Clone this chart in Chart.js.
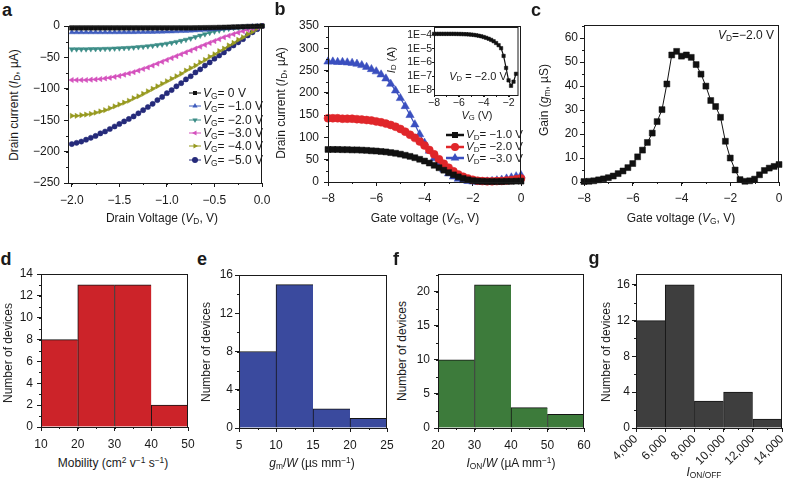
<!DOCTYPE html>
<html lang="en">
<head>
<meta charset="UTF-8">
<title>Transistor characteristics</title>
<script src="https://cdn.jsdelivr.net/npm/chart.js"></script>
<style>
  body { margin: 0; background: #fff; font-family: 'Liberation Sans', Arial, sans-serif; color: #1a1a1a; }
  #fig { position: relative; width: 786px; height: 486px; overflow: hidden; }
  canvas { position: absolute; }
  .t { position: absolute; white-space: nowrap; font-size: 12px; line-height: 1; transform: translate(-50%, -50%); }
  .rot { transform: translate(-50%, -50%) rotate(-90deg); }
  .p { font-weight: bold; font-size: 18px; }
  .leg { position: absolute; white-space: nowrap; display: flex; align-items: center; height: 16px; font-size: 12px; line-height: 1; }
  sub { font-size: 0.7em; vertical-align: -0.25em; line-height: 0; }
  sup { font-size: 0.7em; vertical-align: 0.45em; line-height: 0; }
</style>
</head>
<body>
<div id="fig"></div>
<script>
// ---- a: output curves, drain current (uA) vs drain voltage
const drainV = [-2.0,-1.95,-1.9,-1.85,-1.8,-1.75,-1.7,-1.65,-1.6,-1.55,-1.5,-1.45,-1.4,-1.35,-1.3,-1.25,-1.2,-1.15,-1.1,-1.05,-1.0,-0.95,-0.9,-0.85,-0.8,-0.75,-0.7,-0.65,-0.6,-0.55,-0.5,-0.45,-0.4,-0.35,-0.3,-0.25,-0.2,-0.15,-0.1,-0.05,0];
const idVg0 = [-3,-3,-3,-3,-3,-3,-3,-3,-3,-3,-3,-3,-3,-3,-3,-3,-3,-3,-3,-3,-3,-3,-3,-3,-3,-3,-2.9,-2.8,-2.7,-2.6,-2.5,-2.3,-2.1,-1.9,-1.6,-1.4,-1.1,-0.8,-0.6,-0.3,0];
const idVg1 = [-10,-10,-10,-10,-10,-10,-10,-10,-10,-10,-9.9,-9.9,-9.8,-9.8,-9.7,-9.6,-9.5,-9.4,-9.3,-9.1,-8.9,-8.7,-8.4,-8.1,-7.8,-7.4,-7.0,-6.6,-6.1,-5.6,-5.1,-4.6,-4.0,-3.5,-2.9,-2.4,-1.9,-1.4,-0.9,-0.5,0];
const idVg2 = [-37,-37,-37,-37,-36.8,-36.7,-36.5,-36.3,-36.1,-35.8,-35.5,-35.1,-34.7,-34.2,-33.6,-33.0,-32.2,-31.4,-30.4,-29.3,-28.1,-26.8,-25.3,-23.6,-21.8,-19.8,-17.6,-15.3,-13.0,-10.8,-8.8,-7.0,-5.5,-4.2,-3.2,-2.4,-1.7,-1.1,-0.6,-0.3,0];
const idVg3 = [-86,-86,-86,-86,-85.5,-85,-84.5,-83.5,-82.5,-81,-79.5,-77.5,-75.5,-73.5,-71,-68.5,-66,-63,-60,-57,-54,-51,-48,-45,-42,-39,-36,-33,-30,-27,-24,-21,-18,-15.5,-13,-10.5,-8.2,-6,-4,-2,0];
const idVg4 = [-143,-143,-142,-141,-140,-138,-136,-134,-131,-128,-125,-122,-119,-115,-112,-108,-104,-100,-96,-92,-88,-84,-80,-76,-71,-67,-63,-58,-54,-49,-45,-40,-36,-31,-27,-22,-18,-13,-9,-4,0];
const idVg5 = [-188,-186,-184,-181,-178,-175,-171,-168,-164,-160,-156,-152,-148,-144,-139,-134,-129,-124,-118,-113,-107,-102,-96,-91,-85,-80,-74,-69,-63,-58,-52,-47,-42,-36,-31,-26,-21,-15,-10,-5,0];
const aXTicks = [-2.0, -1.5, -1.0, -0.5, 0.0];
const aYTicks = [-250, -200, -150, -100, -50, 0];

// ---- b: transfer curves, drain current (uA) vs gate voltage
const gateV = [-8,-7.8,-7.6,-7.4,-7.2,-7,-6.8,-6.6,-6.4,-6.2,-6,-5.8,-5.6,-5.4,-5.2,-5,-4.8,-4.6,-4.4,-4.2,-4,-3.8,-3.6,-3.4,-3.2,-3,-2.8,-2.6,-2.4,-2.2,-2,-1.8,-1.6,-1.4,-1.2,-1,-0.8,-0.6,-0.4,-0.2,0];
const idVd1 = [73,73,73,72.5,72.5,72,72,71.5,71,70,69.5,68.5,67.5,66,64.5,62.5,60,57.5,54.5,51,47,42.5,37.5,32,26.5,21,16,11.5,8,5,3,2,1.5,1,1,1,1,1.5,1.5,2,2];
const idVd2 = [143,143,143,142,142,142,141,140,139,138,136,134,131,128,124,119,113,106,99,91,82,72,62,51,41,32,24,17,12,8,5,3,2,1.5,1.5,2,2.5,3.5,4.5,6,8];
const idVd3 = [270,270,269,269,268,267,265,262,258,253,248,241,232,220,205,188,170,150,129,107,88,70,53,39,28,19,12,7,4,2,1,0.5,0.5,1,2,3.5,5,7.5,10,12.5,15];
const bXTicks = [-8, -6, -4, -2, 0];
const bYTicks = [0, 50, 100, 150, 200, 250, 300, 350];

// ---- b inset: log drain current (A), VD = -2.0 V
const insetV = [-8,-7.8,-7.6,-7.4,-7.2,-7,-6.8,-6.6,-6.4,-6.2,-6,-5.8,-5.6,-5.4,-5.2,-5,-4.8,-4.6,-4.4,-4.2,-4,-3.8,-3.6,-3.4,-3.2,-3,-2.8,-2.6,-2.4,-2.2,-2,-1.8,-1.6,-1.4];
const insetI = [1.2e-4,1.2e-4,1.2e-4,1.2e-4,1.2e-4,1.2e-4,1.2e-4,1.2e-4,1.2e-4,1.19e-4,1.18e-4,1.17e-4,1.15e-4,1.13e-4,1.1e-4,1.06e-4,1.01e-4,9.5e-5,8.8e-5,8e-5,7.1e-5,6.2e-5,5.3e-5,4.4e-5,3.5e-5,2.6e-5,1.8e-5,1.1e-5,3e-6,4e-7,5e-8,2e-8,4e-8,1.5e-7];
const insetXTicks = [-8, -6, -4, -2];
const insetYTicks = [1e-8, 1e-7, 1e-6, 1e-5, 1e-4];

// ---- c: transconductance (uS)
const gainG = [0.2,0.3,0.5,0.9,1.3,1.8,2.5,3.5,4.6,6.0,7.7,10.5,13.3,16.5,20.4,25.2,30.2,40.9,53,54.5,52.5,53,52,49,45,40,34,31.5,27,17,10,5,1,0.3,0.5,1.2,3,4.8,5.8,6.5,7.3];
const cYTicks = [0, 10, 20, 30, 40, 50, 60];

// ---- d-g: device histograms (bin centres and counts)
const mobilityBins = [15, 25, 35, 45];
const mobilityCount = [8, 13, 13, 2];
const gmBins = [7.5, 12.5, 17.5, 22.5];
const gmCount = [8, 15, 2, 1];
const ionBins = [25, 35, 45, 55];
const ionCount = [10, 21, 3, 2];
const ratioBins = [5000, 7000, 9000, 11000, 13000];
const ratioCount = [12, 16, 3, 4, 1];
const dXTicks = [10, 20, 30, 40, 50];
const dYTicks = [0, 2, 4, 6, 8, 10, 12, 14];
const eXTicks = [5, 10, 15, 20, 25];
const eYTicks = [0, 4, 8, 12, 16];
const fXTicks = [20, 30, 40, 50, 60];
const fYTicks = [0, 5, 10, 15, 20];
const gXTicks = [4000, 6000, 8000, 10000, 12000, 14000];
const gYTicks = [0, 4, 8, 12, 16];

Chart.defaults.font.family = "'Liberation Sans', Arial, sans-serif";
Chart.defaults.font.size = 12;
Chart.defaults.color = '#1a1a1a';

const fig = document.getElementById('fig');
const ink = '#1a1a1a';

// box around every plot area
const frame = {
  id: 'frame',
  afterDraw(chart) {
    const a = chart.chartArea, ctx = chart.ctx;
    ctx.save();
    ctx.strokeStyle = ink; ctx.lineWidth = 1;
    ctx.strokeRect(a.left + 0.5, a.top + 0.5, a.right - a.left - 1, a.bottom - a.top);
    ctx.restore();
  }
};
// small in-between ticks
const minorTicks = {
  id: 'minorTicks',
  afterDraw(chart, args, opts) {
    const a = chart.chartArea, ctx = chart.ctx, len = opts.len || 2;
    const {x, y} = chart.scales;
    ctx.save();
    ctx.strokeStyle = ink; ctx.lineWidth = 1;
    ctx.beginPath();
    if (opts.x) {
      for (let v = Math.ceil(x.min / opts.x - 1e-9) * opts.x; v <= x.max + 1e-9; v += opts.x) {
        const px = Math.round(x.getPixelForValue(v)) + 0.5;
        ctx.moveTo(px, a.bottom); ctx.lineTo(px, a.bottom + len);
      }
    }
    if (opts.y) {
      for (let v = Math.ceil(y.min / opts.y - 1e-9) * opts.y; v <= y.max + 1e-9; v += opts.y) {
        const py = Math.round(y.getPixelForValue(v)) + 0.5;
        ctx.moveTo(a.left - len, py); ctx.lineTo(a.left, py);
      }
    }
    ctx.stroke();
    ctx.restore();
  }
};
const whiteArea = {
  id: 'whiteArea',
  beforeDraw(chart) {
    const a = chart.chartArea;
    chart.ctx.save();
    chart.ctx.fillStyle = '#fff';
    chart.ctx.fillRect(a.left, a.top, a.right - a.left, a.bottom - a.top);
    chart.ctx.restore();
  }
};
Chart.register(frame, minorTicks);

const minus = v => (v < 0 ? '\u2212' : '') + Math.abs(v);
const minus1 = v => (v < 0 ? '\u2212' : '') + Math.abs(v).toFixed(1);

function axis(min, max, ticks, fmt, o = {}) {
  return {
    type: o.type || 'linear', min, max, bounds: 'data', offset: false,
    afterBuildTicks: s => { s.ticks = ticks.map(v => ({value: v})); },
    ticks: {
      callback: fmt, autoSkip: false,
      maxRotation: o.rot || 0, minRotation: o.rot || 0,
      padding: o.pad === undefined ? 4 : o.pad,
      font: {size: o.fs || 12}
    },
    grid: {drawOnChartArea: false, drawTicks: true, tickLength: o.tl || 4, color: ink, offset: false},
    border: {display: false}
  };
}

// area = plot rectangle in page pixels, m = room for axes around it
function panel(area, m, cfg) {
  const cv = document.createElement('canvas');
  cv.width = area.r - area.l + m.l + m.r;
  cv.height = area.b - area.t + m.t + m.b;
  cv.style.left = (area.l - m.l) + 'px';
  cv.style.top = (area.t - m.t) + 'px';
  fig.appendChild(cv);
  const o = cfg.options;
  o.responsive = false;
  o.animation = false;
  o.layout = {padding: {left: 0, top: m.t, right: m.r, bottom: 0}};
  o.scales.x.afterFit = s => { s.height = m.b; s.paddingLeft = 0; s.paddingRight = 0; };
  o.scales.y.afterFit = s => { s.width = m.l; s.paddingTop = 0; s.paddingBottom = 0; };
  o.plugins = Object.assign({legend: {display: false}, tooltip: {enabled: false}}, o.plugins || {});
  return new Chart(cv, cfg);
}

function pts(xs, ys) { return xs.map((x, i) => ({x: x, y: ys[i]})); }

function lineSet(xs, ys, color, style, r, rot) {
  return {
    data: pts(xs, ys), borderColor: color, backgroundColor: color,
    pointBackgroundColor: color, pointBorderColor: color, pointBorderWidth: 0.5,
    borderWidth: 1.2, pointStyle: style, pointRadius: r, pointRotation: rot || 0,
    clip: false, tension: 0
  };
}

// ---- panel a
const aStyles = [
  {ys: idVg0, c: '#111111', s: 'rect', rot: 0, r: 3.2},
  {ys: idVg1, c: '#3f5cbd', s: 'triangle', rot: 0, r: 3},
  {ys: idVg2, c: '#3b8c86', s: 'triangle', rot: 180, r: 3},
  {ys: idVg3, c: '#d451bd', s: 'triangle', rot: -90, r: 3},
  {ys: idVg4, c: '#96991f', s: 'triangle', rot: 90, r: 3},
  {ys: idVg5, c: '#252a7a', s: 'circle', rot: 0, r: 2.6}
];
panel({l: 68, t: 26, r: 262, b: 183}, {l: 45, t: 10, r: 14, b: 30}, {
  type: 'line',
  data: {datasets: aStyles.map(d => lineSet(drainV, d.ys, d.c, d.s, d.r, d.rot))},
  options: {
    scales: {
      x: axis(-2.04, 0, aXTicks, minus1, {pad: 6}),
      y: axis(-250, 0, aYTicks, minus, {pad: 4})
    },
    plugins: {minorTicks: {x: 0.25, y: 25}}
  }
});

// ---- panel b
panel({l: 328, t: 26, r: 521, b: 182}, {l: 40, t: 10, r: 8, b: 30}, {
  type: 'line',
  data: {datasets: [
    lineSet(gateV, idVd1, '#111111', 'rect', 4.2, 0),
    lineSet(gateV, idVd2, '#e0262a', 'circle', 4, 0),
    lineSet(gateV, idVd3, '#3a4fbf', 'triangle', 4.8, 0)
  ]},
  options: {
    scales: {
      x: axis(-8, 0, bXTicks, minus, {pad: 5}),
      y: axis(0, 350, bYTicks, minus, {pad: 5})
    },
    plugins: {minorTicks: {x: 1, y: 25}}
  }
});

// ---- panel b inset
panel({l: 434, t: 27, r: 519, b: 95}, {l: 38, t: 6, r: 4, b: 16}, {
  type: 'line',
  data: {datasets: [lineSet(insetV, insetI, '#111111', 'rect', 2.4, 0)]},
  options: {
    scales: {
      x: axis(-8, -1.2, insetXTicks, minus, {pad: 0, fs: 10.5, tl: 2}),
      y: axis(4.3e-9, 3.8e-4, insetYTicks, v => '1E\u2212' + Math.round(-Math.log10(v)), {type: 'logarithmic', pad: 0, fs: 10.5, tl: 2})
    },
    plugins: {minorTicks: {x: 1}}
  },
  plugins: [whiteArea]
});

// ---- panel c
panel({l: 584, t: 25, r: 779, b: 182}, {l: 30, t: 10, r: 6, b: 30}, {
  type: 'line',
  data: {datasets: [Object.assign(lineSet(gateV, gainG, '#111111', 'rect', 4.2, 0), {borderWidth: 1})]},
  options: {
    scales: {
      x: axis(-8, 0, bXTicks, minus, {pad: 5}),
      y: axis(0, 65.5, cYTicks, minus, {pad: 2})
    },
    plugins: {minorTicks: {x: 1, y: 5}}
  }
});

// ---- histograms
function hist(area, m, bins, counts, color, xr, xt, yr, yt, o) {
  return panel(area, m, {
    type: 'bar',
    data: {datasets: [{
      data: pts(bins, counts), backgroundColor: color, borderColor: '#141414',
      borderWidth: {top: 1, left: 1, right: 0, bottom: 0}, borderSkipped: false,
      barPercentage: 1, categoryPercentage: 1
    }]},
    options: {
      scales: {
        x: axis(xr[0], xr[1], xt, o.xfmt || minus, {pad: o.xpad, rot: o.rot}),
        y: axis(yr[0], yr[1], yt, minus, {pad: o.ypad})
      },
      plugins: {minorTicks: {x: o.mx, y: o.my}}
    }
  });
}
hist({l: 41, t: 274, r: 188, b: 427}, {l: 28, t: 10, r: 8, b: 28}, mobilityBins, mobilityCount, '#cc2329',
  [10, 50], dXTicks, [0, 14], dYTicks, {xpad: 6, ypad: 4, mx: 5, my: 1});
hist({l: 239, t: 275, r: 387, b: 428}, {l: 28, t: 10, r: 8, b: 28}, gmBins, gmCount, '#3a4a9e',
  [5, 25], eXTicks, [0, 16], eYTicks, {xpad: 6, ypad: 2, mx: 2.5, my: 2});
hist({l: 438, t: 274, r: 584, b: 428}, {l: 28, t: 10, r: 8, b: 28}, ionBins, ionCount, '#3d7b3b',
  [20, 60], fXTicks, [0, 22.6], fYTicks, {xpad: 6, ypad: 4, mx: 5, my: 2.5});
hist({l: 636, t: 274, r: 782, b: 428}, {l: 30, t: 10, r: 4, b: 45}, ratioBins, ratioCount, '#3e3e3e',
  [4000, 14000], gXTicks, [0, 17.2], gYTicks, {xpad: 0, ypad: 2, mx: 1000, my: 2, rot: 45,
  xfmt: v => v.toLocaleString('en-US')});

// ---- text on top
function txt(html, x, y, cls, size) {
  const d = document.createElement('div');
  d.className = 't ' + (cls || '');
  d.style.left = x + 'px';
  d.style.top = y + 'px';
  if (size) d.style.fontSize = size + 'px';
  d.innerHTML = html;
  fig.appendChild(d);
}

function legendRow(x, y, w, color, shape, r, lw, html, fs) {
  const d = document.createElement('div');
  d.className = 'leg';
  d.style.left = x + 'px';
  d.style.top = (y - 8) + 'px';
  d.style.fontSize = fs + 'px';
  const c = w / 2, h = 8;
  let mark;
  if (shape === 'rect') mark = `<rect x="${c - r}" y="${h - r}" width="${2 * r}" height="${2 * r}"/>`;
  else if (shape === 'circle') mark = `<circle cx="${c}" cy="${h}" r="${r}"/>`;
  else {
    const rot = {up: 0, down: 180, left: -90, right: 90}[shape];
    const p = [0, 120, 240].map(a => {
      const t = (a + rot - 90) * Math.PI / 180;
      return (c + r * Math.cos(t)).toFixed(1) + ',' + (h + r * Math.sin(t)).toFixed(1);
    }).join(' ');
    mark = `<polygon points="${p}"/>`;
  }
  d.innerHTML = `<svg width="${w}" height="16" style="margin-right:2px"><line x1="0" y1="8" x2="${w}" y2="8" stroke="${color}" stroke-width="${lw}"/><g fill="${color}">${mark}</g></svg><span>${html}</span>`;
  fig.appendChild(d);
}

const VG = '<i>V</i><sub>G</sub>';
const VD = '<i>V</i><sub>D</sub>';

// panel letters
txt('a', 7, 10, 'p');
txt('b', 280, 9, 'p');
txt('c', 536, 10, 'p');
txt('d', 6, 259, 'p');
txt('e', 202, 259, 'p');
txt('f', 396, 259, 'p');
txt('g', 594, 258, 'p');

// a
txt('Drain Voltage (' + VD + ', V)', 162, 218);
txt('Drain current (<i>I</i><sub>D</sub>, \u00b5A)', 14, 105, 'rot');
const aLabels = ['= 0 V', '= \u22121.0 V', '= \u22122.0 V', '= \u22123.0 V', '= \u22124.0 V', '= \u22125.0 V'];
const aShapes = ['rect', 'up', 'down', 'left', 'right', 'circle'];
const aRows = [93, 106.3, 119.7, 133, 146.3, 159.7];
aStyles.forEach((d, i) => legendRow(189, aRows[i], 12, d.c, aShapes[i], aShapes[i] === 'rect' ? 2 : 3, 1, VG + aLabels[i], 12));

// b
txt('Gate voltage (' + VG + ', V)', 425, 218);
txt('Drain current (<i>I</i><sub>D</sub>, \u00b5A)', 281, 103, 'rot');
legendRow(446, 135, 18, '#111111', 'rect', 3, 2.5, VD + '= \u22121.0 V', 11.5);
legendRow(446, 146.7, 18, '#e0262a', 'circle', 4, 2.5, VD + '= \u22122.0 V', 11.5);
legendRow(446, 158.3, 18, '#3a4fbf', 'up', 5, 2.5, VD + '= \u22123.0 V', 11.5);
txt(VD + ' = \u22122.0 V', 478, 76, '', 11);
txt('<i>I</i><sub>D</sub> (A)', 391, 60, 'rot', 11);
txt(VG + ' (V)', 477, 115, '', 11);

// c
txt('Gate voltage (' + VG + ', V)', 681, 218);
txt('Gain (<i>g</i><sub>m</sub>, \u00b5S)', 544, 100, 'rot');
txt(VD + '=\u22122.0 V', 746, 35);

// d-g
txt('Mobility (cm<sup>2</sup> v<sup>\u22121</sup> s<sup>\u22121</sup>)', 113, 463);
txt('Number of devices', 8, 353, 'rot');
txt('<i>g</i><sub>m</sub>/<i>W</i> (\u00b5s mm<sup>\u22121</sup>)', 312, 463);
txt('Number of devices', 206, 352, 'rot');
txt('<i>I</i><sub>ON</sub>/<i>W</i> (\u00b5A mm<sup>\u22121</sup>)', 511, 463);
txt('Number of devices', 402, 351, 'rot');
txt('<i>I</i><sub>ON/OFF</sub>', 704, 472);
txt('Number of devices', 606, 352, 'rot');
</script>
</body>
</html>
